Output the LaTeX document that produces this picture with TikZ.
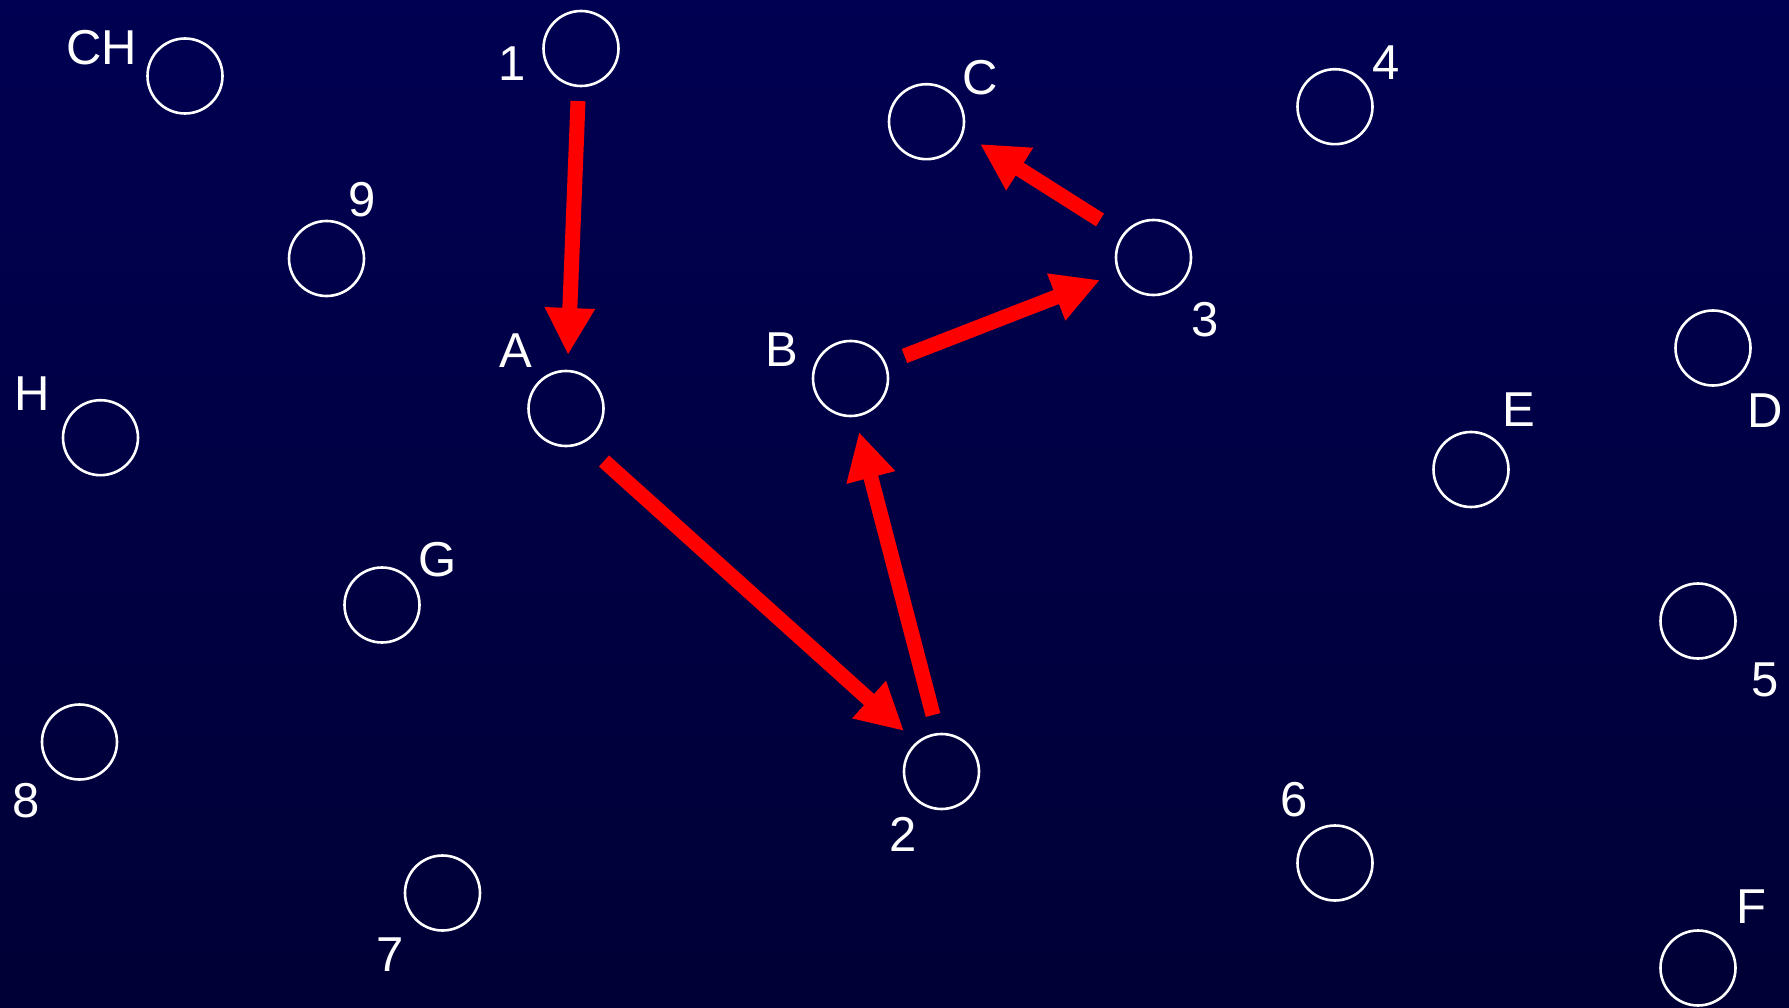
\documentclass[tikz,border=0pt]{standalone}
\usepackage{fontspec}
\setmainfont{Liberation Sans}
\usetikzlibrary{arrows.meta,calc}
\definecolor{bgtop}{RGB}{0,0,82}
\definecolor{bgbot}{RGB}{0,0,54}
\begin{document}
\begin{tikzpicture}[x=1pt,y=-1pt,
  spot/.style={circle,draw=white,line width=2.6pt,minimum size=75pt,inner sep=0pt},
  lab/.style={text=white,inner sep=0pt,font=\fontsize{49}{59}\selectfont},
  redarrow/.style={draw=red,line width=15pt,-{Triangle[length=47pt,width=47pt]}}]
\useasboundingbox (0,0) rectangle (1789,1008);
\fill[top color=bgtop,bottom color=bgbot] (0,0) rectangle (1789,1008);
% circles
\node[spot] (CH) at (185,76) {};
\node[spot] (n1) at (581,48.5) {};
\node[spot] (C) at (926.5,121.7) {};
\node[spot] (n4) at (1335,106.7) {};
\node[spot] (n9) at (326.5,258.5) {};
\node[spot] (n3) at (1153.5,257.5) {};
\node[spot] (A) at (566,408.5) {};
\node[spot] (B) at (850.5,378.5) {};
\node[spot] (H) at (100.5,437.7) {};
\node[spot] (D) at (1713,348) {};
\node[spot] (E) at (1471,469.5) {};
\node[spot] (G) at (382,605) {};
\node[spot] (n5) at (1698,621) {};
\node[spot] (n8) at (79.5,742) {};
\node[spot] (n2) at (941.5,771.5) {};
\node[spot] (n6) at (1335,863) {};
\node[spot] (n7) at (442.5,893) {};
\node[spot] (F) at (1698,968) {};
% labels
\node[lab] (lCH) at (102,48) {CH};
\node[lab] (l1) at (512,64) {1};
\node[lab] (lC) at (980,78) {C};
\node[lab] (l4) at (1386,62.5) {4};
\node[lab] (l9) at (362.5,200) {9};
\node[lab] (l3) at (1205,320) {3};
\node[lab] (lA) at (516,351) {A};
\node[lab] (lB) at (782,350) {B};
\node[lab] (lH) at (32,394) {H};
\node[lab] (lD) at (1765,411) {D};
\node[lab] (lE) at (1519,410) {E};
\node[lab] (lG) at (438,560) {G};
\node[lab] (l5) at (1765,680) {5};
\node[lab] (l8) at (26,801) {8};
\node[lab] (l2) at (903,834.5) {2};
\node[lab] (l6) at (1294,800) {6};
\node[lab] (l7) at (390,955) {7};
\node[lab] (lF) at (1751,907) {F};
% arrow end points, relative to the circles
\coordinate (s1A) at ($(n1)+(-3,52.5)$);
\coordinate (e1A) at ($(A)+(2,-53.5)$);
\coordinate (sA2) at ($(A)+(38,52.5)$);
\coordinate (eA2) at ($(n2)+(-37.5,-40.5)$);
\coordinate (s2B) at ($(n2)+(-8.5,-56.5)$);
\coordinate (e2B) at ($(B)+(8.5,53.5)$);
\coordinate (sB3) at ($(B)+(54,-22.5)$);
\coordinate (eB3) at ($(n3)+(-53.5,22.5)$);
\coordinate (s3C) at ($(n3)+(-53.5,-37.5)$);
\coordinate (e3C) at ($(C)+(53.5,22.3)$);
% arrows
\draw[redarrow] (s1A) -- (e1A);
\draw[redarrow] (sA2) -- (eA2);
\draw[redarrow] (s2B) -- (e2B);
\draw[redarrow] (sB3) -- (eB3);
\draw[redarrow] (s3C) -- (e3C);
\end{tikzpicture}
\end{document}
